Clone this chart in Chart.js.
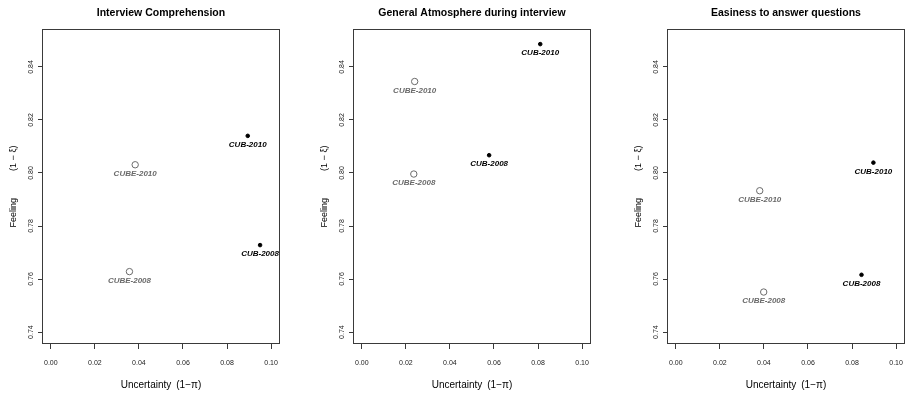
<!DOCTYPE html>
<html>
<head>
<meta charset="utf-8">
<script src="https://cdn.jsdelivr.net/npm/chart.js@4.4.1/dist/chart.umd.min.js"></script>
<style>
  html, body { margin: 0; padding: 0; background: #fff; overflow: hidden; }
  #wrap { position: relative; width: 913px; height: 397px; }
  canvas { position: absolute; top: 0; }
</style>
</head>
<body>
<div id="wrap">
  <canvas id="c0" width="288" height="397" style="left:0px"></canvas>
  <canvas id="c1" width="288" height="397" style="left:311px"></canvas>
  <canvas id="c2" width="288" height="397" style="left:625px"></canvas>
</div>
<script>
// panel titles
const panelTitles = ['Interview Comprehension', 'General Atmosphere during interview', 'Easiness to answer questions'];

// axis ticks
const xTicks = [0.00, 0.02, 0.04, 0.06, 0.08, 0.10];
const yTicks = [0.74, 0.76, 0.78, 0.80, 0.82, 0.84];

// point names, [2008, 2010]
const cubLabels = ['CUB-2008', 'CUB-2010'];
const cubeLabels = ['CUBE-2008', 'CUBE-2010'];

// values per panel, [2008, 2010]
const cubUncertainty = [[0.0950, 0.0894], [0.0578, 0.0810], [0.0843, 0.0897]];
const cubFeeling = [[0.7728, 0.8140], [0.8067, 0.8486], [0.7616, 0.8039]];
const cubeUncertainty = [[0.0357, 0.0383], [0.0236, 0.0240], [0.0399, 0.0381]];
const cubeFeeling = [[0.7628, 0.8031], [0.7996, 0.8345], [0.7551, 0.7933]];

const SANS = '"Liberation Sans", Arial, sans-serif';
const LINE = '#3a3a3a';
const GREY = '#6a6a6a';

// box around the plot region + point captions
const rPlot = {
  id: 'rPlot',
  afterDatasetsDraw(chart) {
    const ctx = chart.ctx;
    ctx.save();
    ctx.font = 'italic bold 8px ' + SANS;
    ctx.textAlign = 'center';
    ctx.textBaseline = 'middle';
    chart.data.datasets.forEach((ds, i) => {
      const meta = chart.getDatasetMeta(i);
      ctx.fillStyle = ds.captionColor;
      meta.data.forEach((pt, j) => {
        ctx.fillText(ds.captions[j], pt.x, pt.y + 9);
      });
    });
    const a = chart.chartArea;
    ctx.strokeStyle = LINE;
    ctx.lineWidth = 1;
    ctx.strokeRect(Math.round(a.left) + 0.5, Math.round(a.top) + 0.5,
      Math.round(a.right - a.left) - 1, Math.round(a.bottom - a.top) - 1);
    ctx.restore();
  }
};

function toPoints(xs, ys) {
  return xs.map((x, i) => ({ x: x, y: ys[i] }));
}

panelTitles.forEach((title, p) => {
  new Chart(document.getElementById('c' + p), {
    type: 'scatter',
    data: {
      datasets: [{
        data: toPoints(cubUncertainty[p], cubFeeling[p]),
        captions: cubLabels,
        captionColor: '#000',
        pointRadius: 1.8,
        pointBackgroundColor: '#000',
        pointBorderColor: '#000',
        pointBorderWidth: 1
      }, {
        data: toPoints(cubeUncertainty[p], cubeFeeling[p]),
        captions: cubeLabels,
        captionColor: GREY,
        pointRadius: 3.2,
        pointBackgroundColor: 'rgba(0,0,0,0)',
        pointBorderColor: GREY,
        pointBorderWidth: 1
      }]
    },
    options: {
      responsive: false,
      animation: false,
      devicePixelRatio: 1,
      layout: { padding: { left: 0, right: 1, top: 0, bottom: 0 } },
      plugins: {
        legend: { display: false },
        tooltip: { enabled: false },
        title: {
          display: true,
          text: title,
          fullSize: false,
          color: '#000',
          font: { family: SANS, size: 10.5, weight: 'bold' },
          padding: { top: 6.7, bottom: 9.7 }
        }
      },
      scales: {
        x: {
          type: 'linear',
          min: -0.004,
          max: 0.104,
          afterBuildTicks: s => { s.ticks = xTicks.map(v => ({ value: v })); },
          afterFit: s => { s.height = 53; },
          border: { display: false },
          grid: { drawOnChartArea: false, tickLength: 5, color: LINE },
          ticks: {
            autoSkip: false,
            maxRotation: 0,
            padding: 9.8,
            color: '#222',
            font: { family: SANS, size: 7 },
            callback: v => v.toFixed(2)
          },
          title: {
            display: true,
            text: 'Uncertainty\u2002(1−π)',
            color: '#000',
            font: { family: SANS, size: 10 },
            padding: { top: 0, bottom: 6 }
          }
        },
        y: {
          type: 'linear',
          min: 0.7355,
          max: 0.8543,
          afterBuildTicks: s => { s.ticks = yTicks.map(v => ({ value: v })); },
          afterFit: s => { s.width = 42; },
          border: { display: false },
          grid: { drawOnChartArea: false, tickLength: 4, color: LINE },
          ticks: {
            autoSkip: false,
            minRotation: 90,
            maxRotation: 90,
            crossAlign: 'center',
            padding: 0,
            color: '#222',
            font: { family: SANS, size: 7 },
            callback: v => v.toFixed(2)
          },
          title: {
            display: true,
            text: 'Feeling\u2003\u2003\u2003(1 − ξ)',
            color: '#000',
            font: { family: SANS, size: 9 },
            padding: { top: 8.6, bottom: 0 }
          }
        }
      }
    },
    plugins: [rPlot]
  });
});
</script>
</body>
</html>
